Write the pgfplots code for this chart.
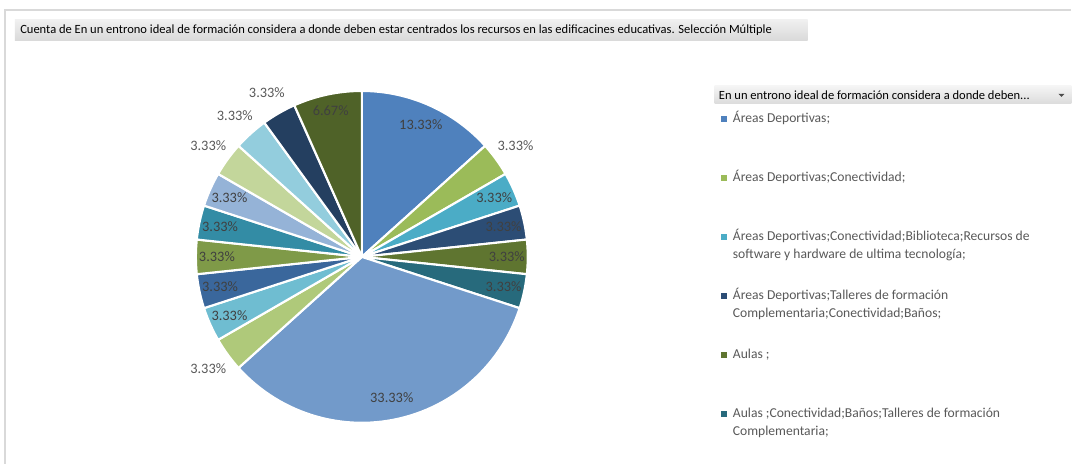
\documentclass[border=0pt]{standalone}
\usepackage{pgfplots}
\pgfplotsset{compat=1.18}
\usepackage{pgfplotstable}
\usepackage{fontspec}
\setmainfont{Carlito}
\definecolor{s1}{HTML}{4F81BD}
\definecolor{s2}{HTML}{9BBB59}
\definecolor{s3}{HTML}{4BACC6}
\definecolor{s4}{HTML}{2C4D75}
\definecolor{s5}{HTML}{5F7530}
\definecolor{s6}{HTML}{276A7C}
\definecolor{s7}{HTML}{729ACA}
\definecolor{s8}{HTML}{AFC97A}
\definecolor{s9}{HTML}{6FBDD1}
\definecolor{s10}{HTML}{3A679C}
\definecolor{s11}{HTML}{7F9A48}
\definecolor{s12}{HTML}{338CA5}
\definecolor{s13}{HTML}{95B3D7}
\definecolor{s14}{HTML}{C3D69B}
\definecolor{s15}{HTML}{93CDDD}
\definecolor{s16}{HTML}{243F60}
\definecolor{s17}{HTML}{4F6228}
\definecolor{lin}{HTML}{404040}
\definecolor{lout}{HTML}{595959}
\definecolor{legtext}{HTML}{595959}
\definecolor{frame}{HTML}{D9D9D9}

% count of answers per category (total 30)
\pgfplotstableread{
n  colour lc   r
4  s1     lin  145
1  s2     lout 190
1  s3     lin  145
1  s4     lin  145
1  s5     lin  145
1  s6     lin  145
10 s7     lin  144
1  s8     lout 190
1  s9     lin  145
1  s10    lin  145
1  s11    lin  145
1  s12    lin  145
1  s13    lin  145
1  s14    lout 190
1  s15    lout 190
1  s16    lout 190
2  s17    lin  150
}\pietable

\begin{document}
\begin{tikzpicture}
\begin{axis}[
  x=0.75pt, y=0.75pt,
  xmin=0, xmax=1072, ymin=0, ymax=464,
  hide axis, clip=false,
  axis line style={draw=none},
]
\fill[white] (axis cs:0,0) rectangle (axis cs:1072,464);
\draw[frame, line width=0.8pt] (axis cs:5,0) -- (axis cs:5,454) -- (axis cs:1072,454);

% title bar
\shade[top color=gray!12, bottom color=gray!30] (axis cs:15,423) rectangle (axis cs:808,444);
\node[anchor=west, inner sep=0pt, font=\fontsize{9.4}{11}\selectfont, text=black] at (axis cs:20,433.5)
 {Cuenta de En un entrono ideal de formación considera a donde deben estar  centrados los recursos en las edificacines educativas. Selección Múltiple};

% pie
\pgfmathsetmacro\cum{0}
\pgfplotsforeachungrouped \i in {0,...,16}{%
  \pgfplotstablegetelem{\i}{n}\of\pietable \pgfmathsetmacro\n{\pgfplotsretval}%
  \pgfplotstablegetelem{\i}{colour}\of\pietable \edef\c{\pgfplotsretval}%
  \pgfplotstablegetelem{\i}{lc}\of\pietable \edef\lc{\pgfplotsretval}%
  \pgfplotstablegetelem{\i}{r}\of\pietable \pgfmathsetmacro\rr{\pgfplotsretval}%
  \pgfmathsetmacro\a{90-12*\cum}%
  \pgfmathsetmacro\cum{\cum+\n}%
  \pgfmathsetmacro\b{90-12*\cum}%
  \pgfmathsetmacro\m{(\a+\b)/2}%
  \pgfmathsetmacro\pct{100*\n/30}%
  \pgfmathsetmacro\lx{362+\rr*cos(\m)}%
  \pgfmathsetmacro\ly{207+\rr*sin(\m)}%
  \edef\temp{\noexpand\addplot[fill=\c, draw=white, line width=1.6pt, line join=round, domain=\b:\a, samples=60] ({362+166*cos(x)},{207+166*sin(x)}) -- (axis cs:362,207) -- cycle;}%
  \temp
  \edef\temp{\noexpand\node[text=\lc, font=\noexpand\fontsize{10.8}{12}\noexpand\selectfont, inner sep=0pt] at (axis cs:\lx,\ly) {\noexpand\pgfmathprintnumber[assume math mode=true,fixed,fixed zerofill,precision=2]{\pct}\noexpand\%};}%
  \temp
}

% legend header
\shade[top color=gray!8, bottom color=gray!28] (axis cs:715,360) rectangle (axis cs:1072,378);
\node[anchor=west, inner sep=0pt, font=\fontsize{9.4}{11}\selectfont, text=black] at (axis cs:719,369)
 {En un entrono ideal de formación considera a donde deben...};
\fill[black!70] (axis cs:1059,370) -- (axis cs:1065,370) -- (axis cs:1062,367) -- cycle;

% legend entries
\tikzset{legtxt/.style={anchor=west, inner sep=0pt, text=legtext, font=\fontsize{10.2}{12.5}\selectfont, text height=1.6ex, text depth=0.4ex},
         legsq/.style={inner sep=0pt}}
\node[legsq] at (axis cs:724,345) {\textcolor{s1}{\rule{4.5pt}{4.5pt}}};
\node[legtxt] at (axis cs:733,345) {Áreas Deportivas;};
\node[legsq] at (axis cs:724,286) {\textcolor{s2}{\rule{4.5pt}{4.5pt}}};
\node[legtxt] at (axis cs:733,286) {Áreas Deportivas;Conectividad;};
\node[legsq] at (axis cs:724,227) {\textcolor{s3}{\rule{4.5pt}{4.5pt}}};
\node[legtxt] at (axis cs:733,227) {Áreas Deportivas;Conectividad;Biblioteca;Recursos de};
\node[legtxt] at (axis cs:733,209) {software y hardware de ultima tecnología;};
\node[legsq] at (axis cs:724,168) {\textcolor{s4}{\rule{4.5pt}{4.5pt}}};
\node[legtxt] at (axis cs:733,168) {Áreas Deportivas;Talleres de formación};
\node[legtxt] at (axis cs:733,150) {Complementaria;Conectividad;Baños;};
\node[legsq] at (axis cs:724,109) {\textcolor{s5}{\rule{4.5pt}{4.5pt}}};
\node[legtxt] at (axis cs:733,109) {Aulas ;};
\node[legsq] at (axis cs:724,50) {\textcolor{s6}{\rule{4.5pt}{4.5pt}}};
\node[legtxt] at (axis cs:733,50) {Aulas ;Conectividad;Baños;Talleres de formación};
\node[legtxt] at (axis cs:733,32) {Complementaria;};
\end{axis}
\end{tikzpicture}
\end{document}
